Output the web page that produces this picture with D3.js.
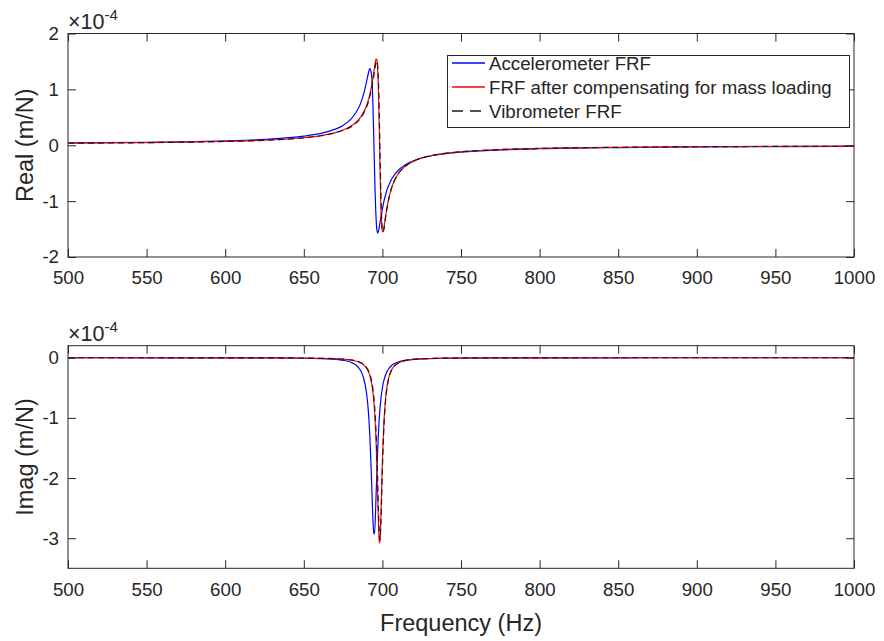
<!DOCTYPE html>
<html>
<head>
<meta charset="utf-8">
<script src="https://cdn.jsdelivr.net/npm/d3@7"></script>
<style>
  body { margin: 0; background: #fff; }
  svg text { font-family: "Liberation Sans", Arial, Helvetica, sans-serif; fill: #262626; }
</style>
</head>
<body>
<div id="vis"></div>
<script>
// values in units of 1e-4 m/N
var freq = [500, 550, 600, 625, 650, 660, 670, 675, 680, 683, 686, 688, 690, 691, 692, 693, 694, 694.5, 695, 696,
  696.5, 697, 697.5, 698, 698.5, 699, 699.5, 700, 700.5, 701, 702, 703, 704, 706, 708, 710, 713, 716, 720, 725,
  730, 740, 750, 775, 800, 850, 900, 950, 1000];

var realAccel = [0.042, 0.054, 0.080, 0.106, 0.163, 0.208, 0.288, 0.355, 0.466, 0.577, 0.74, 0.91, 1.15, 1.28, 1.37, 1.28, 0.70, 0.15, -0.45, -1.32,
  -1.52, -1.57, -1.54, -1.46, -1.38, -1.30, -1.22, -1.14, -1.07, -1.00, -0.89, -0.79, -0.72, -0.60, -0.515, -0.452, -0.380, -0.327, -0.277, -0.227,
  -0.194, -0.150, -0.122, -0.083, -0.062, -0.041, -0.030, -0.023, -0.019];
var realComp = [0.037, 0.047, 0.069, 0.090, 0.134, 0.168, 0.226, 0.274, 0.344, 0.403, 0.498, 0.589, 0.717, 0.803, 0.911, 1.041, 1.208, 1.300, 1.392, 1.545,
  1.525, 1.356, 0.957, 0.303, -0.450, -1.058, -1.407, -1.550, -1.545, -1.466, -1.280, -1.104, -0.960, -0.750, -0.612, -0.514, -0.414, -0.347, -0.284, -0.229,
  -0.192, -0.145, -0.116, -0.077, -0.057, -0.037, -0.027, -0.021, -0.017];
var realVibro = [0.036, 0.047, 0.068, 0.089, 0.133, 0.166, 0.223, 0.270, 0.329, 0.391, 0.481, 0.568, 0.689, 0.770, 0.873, 0.994, 1.150, 1.237, 1.327, 1.495,
  1.511, 1.419, 1.127, 0.577, -0.150, -0.827, -1.273, -1.52, -1.55, -1.50, -1.293, -1.115, -0.968, -0.752, -0.610, -0.512, -0.411, -0.343, -0.281, -0.228,
  -0.191, -0.145, -0.116, -0.077, -0.057, -0.037, -0.027, -0.021, -0.017];

var imagAccel = [-0.0004, -0.0008, -0.0017, -0.0034, -0.0084, -0.014, -0.027, -0.043, -0.076, -0.118, -0.207, -0.333, -0.607, -0.867, -1.293, -1.953, -2.70, -2.91, -2.93, -2.27,
  -1.875, -1.528, -1.241, -1.013, -0.835, -0.696, -0.586, -0.499, -0.428, -0.371, -0.286, -0.227, -0.183, -0.126, -0.092, -0.070, -0.050, -0.037, -0.026, -0.018,
  -0.0135, -0.0082, -0.0055, -0.0026, -0.0015, -0.0007, -0.0004, -0.0002, -0.0001];
var imagComp = [-0.0003, -0.0006, -0.0013, -0.0024, -0.0054, -0.0087, -0.0158, -0.0232, -0.0376, -0.0536, -0.0824, -0.117, -0.177, -0.226, -0.297, -0.405, -0.581, -0.709, -0.880, -1.411,
  -1.807, -2.284, -2.759, -3.08, -3.02, -2.671, -2.185, -1.722, -1.345, -1.058, -0.681, -0.465, -0.334, -0.194, -0.126, -0.088, -0.0565, -0.039, -0.026, -0.0176,
  -0.0125, -0.0072, -0.0047, -0.0021, -0.0010, -0.0005, -0.0002, -0.0001, -0.0001];
var imagVibro = [-0.0003, -0.0006, -0.0013, -0.0024, -0.0053, -0.0085, -0.0152, -0.0222, -0.0361, -0.0513, -0.0783, -0.110, -0.166, -0.210, -0.275, -0.372, -0.528, -0.641, -0.789, -1.257,
  -1.607, -2.047, -2.527, -2.916, -3.03, -2.785, -2.336, -1.862, -1.456, -1.141, -0.726, -0.490, -0.349, -0.200, -0.128, -0.089, -0.057, -0.039, -0.026, -0.0177,
  -0.0126, -0.0072, -0.0047, -0.0021, -0.0010, -0.0005, -0.0002, -0.0001, -0.0001];

var freqTicks = [500, 550, 600, 650, 700, 750, 800, 850, 900, 950, 1000];
var realTicks = [-2, -1, 0, 1, 2];
var imagTicks = [-3, -2, -1, 0];
var seriesNames = ['Accelerometer FRF', 'FRF after compensating for mass loading', 'Vibrometer FRF'];

var width = 884;
var height = 641;
var axisColor = '#262626';
var left = 68, right = 854;

var svg = d3.select('#vis').append('svg')
  .attr('width', width)
  .attr('height', height);

var x = d3.scaleLinear().domain([500, 1000]).range([left, right]);

var styles = [
  { color: '#0000ff', dash: null },
  { color: '#ff0000', dash: null },
  { color: '#1a1a1a', dash: '6,4' }
];

// matlab style labels use a plain hyphen
function plainNum(d) { return String(d); }

function drawPanel(top, bottom, yDomain, yTicks, series, yLabel) {
  var y = d3.scaleLinear().domain(yDomain).range([bottom, top]);
  var g = svg.append('g');

  var clipId = 'clip' + Math.round(top);
  svg.append('clipPath').attr('id', clipId)
    .append('rect')
    .attr('x', left).attr('y', top)
    .attr('width', right - left).attr('height', bottom - top);

  var line = d3.line()
    .x(function (d, i) { return x(freq[i]); })
    .y(function (d) { return y(d); })
    .curve(d3.curveMonotoneX);

  series.forEach(function (s, k) {
    g.append('path')
      .attr('clip-path', 'url(#' + clipId + ')')
      .attr('d', line(s))
      .attr('fill', 'none')
      .attr('stroke', styles[k].color)
      .attr('stroke-width', 1.2)
      .attr('stroke-dasharray', styles[k].dash);
  });

  var tick = 8;
  var ax = [
    g.append('g').attr('transform', 'translate(0,' + bottom + ')')
      .call(d3.axisBottom(x).tickValues(freqTicks).tickSize(-tick).tickPadding(14).tickFormat(plainNum)),
    g.append('g').attr('transform', 'translate(0,' + top + ')')
      .call(d3.axisTop(x).tickValues(freqTicks).tickSize(-tick).tickFormat('')),
    g.append('g').attr('transform', 'translate(' + left + ',0)')
      .call(d3.axisLeft(y).tickValues(yTicks).tickSize(-tick).tickPadding(9).tickFormat(plainNum)),
    g.append('g').attr('transform', 'translate(' + right + ',0)')
      .call(d3.axisRight(y).tickValues(yTicks).tickSize(-tick).tickFormat(''))
  ];
  ax.forEach(function (a) {
    a.select('.domain').remove();
    a.selectAll('line').attr('stroke', axisColor);
    a.selectAll('text').style('font-size', '18.7px').attr('fill', axisColor);
  });

  g.append('rect')
    .attr('x', left).attr('y', top)
    .attr('width', right - left).attr('height', bottom - top)
    .attr('fill', 'none')
    .attr('stroke', axisColor)
    .attr('stroke-width', 1);

  // exponent
  var ex = g.append('text')
    .attr('x', left)
    .attr('y', top - 5)
    .style('font-size', '21.5px');
  ex.append('tspan').text('\u00d710');
  ex.append('tspan').attr('dy', -9).style('font-size', '15px').text('-4');

  g.append('text')
    .attr('transform', 'translate(33,' + ((top + bottom) / 2) + ') rotate(-90)')
    .attr('text-anchor', 'middle')
    .style('font-size', '23.5px')
    .text(yLabel);

  return g;
}

drawPanel(33.5, 257, [-2, 2], realTicks, [realAccel, realComp, realVibro], 'Real (m/N)');
drawPanel(345.7, 568.3, [-3.5, 0.2], imagTicks, [imagAccel, imagComp, imagVibro], 'Imag (m/N)');

svg.append('text')
  .attr('x', (left + right) / 2)
  .attr('y', 631)
  .attr('text-anchor', 'middle')
  .style('font-size', '23.5px')
  .text('Frequency (Hz)');

// legend
var legend = svg.append('g');
legend.append('rect')
  .attr('x', 447.5).attr('y', 55.5)
  .attr('width', 402).attr('height', 72)
  .attr('fill', '#fff')
  .attr('stroke', axisColor);

seriesNames.forEach(function (name, k) {
  var ly = 63 + k * 24;
  legend.append('path')
    .attr('d', 'M452,' + ly + 'H485')
    .attr('fill', 'none')
    .attr('stroke', styles[k].color)
    .attr('stroke-width', 1.4)
    .attr('stroke-dasharray', k === 2 ? '11,7' : null);
  legend.append('text')
    .attr('x', 489)
    .attr('y', ly)
    .attr('dy', '0.35em')
    .style('font-size', '18.7px')
    .text(name);
});
</script>
</body>
</html>
